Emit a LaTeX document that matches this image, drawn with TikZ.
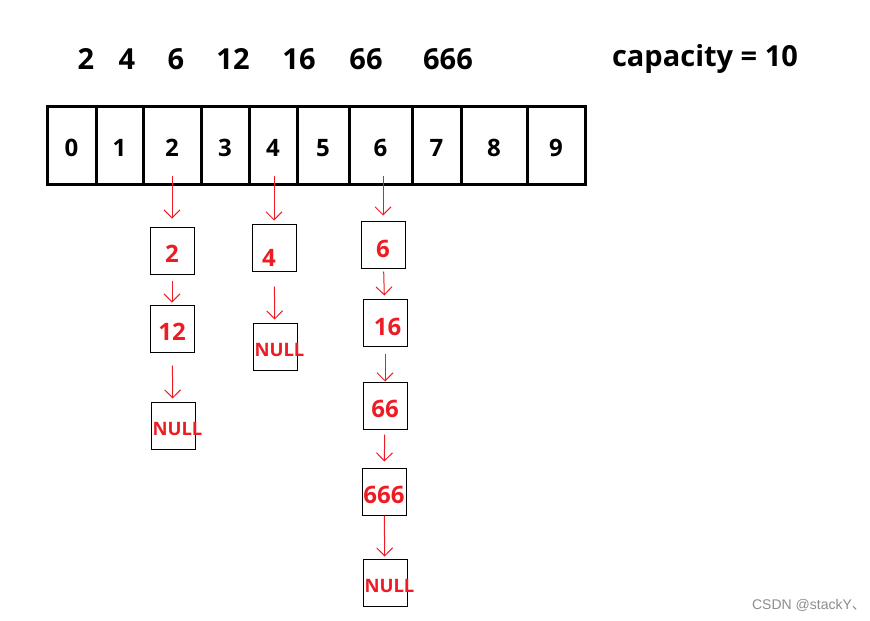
\documentclass[tikz,border=0pt]{standalone}
\usepackage{fontspec}
\setmainfont{Open Sans}
\newfontfamily\cjk{Noto Sans CJK SC}
\newfontfamily\markfont{Liberation Sans}
\usetikzlibrary{arrows.meta}
\definecolor{paintred}{RGB}{237,28,36}
\tikzset{
 ht key/.style={font=\fontsize{29}{29}\selectfont\bfseries},
 ht cell/.style={draw,line width=3pt,inner sep=0pt,minimum height=78pt,
                 text height=21pt,text depth=0pt,
                 font=\fontsize{24}{24}\selectfont\bfseries},
 ht box/.style={draw,line width=1pt,inner sep=0pt,minimum width=44pt,
                minimum height=47pt,text=paintred,text depth=0pt,
                text height=23pt,font=\fontsize{24}{24}\selectfont\bfseries},
 ht null/.style={ht box,text height=20pt,
                 font=\fontsize{18.5}{18.5}\selectfont\bfseries},
 ht link/.style={paintred,line width=1pt,
                 -{Straight Barb[length=8pt,width=16pt,line width=1pt]}}
}
\newcommand{\nullword}{\makebox[44pt][l]{\hspace*{1.5pt}NULL}}
\begin{document}
\begin{tikzpicture}[x=1pt,y=-1pt]
 \useasboundingbox (0,0) rectangle (870,621);
 % keys and capacity
 \node[ht key] (k2) at (86,59) {2};
 \node[ht key] (k4) at (127,59) {4};
 \node[ht key] (k6) at (176,59) {6};
 \node[ht key] (k12) at (233,59) {12};
 \node[ht key] (k16) at (299,59) {16};
 \node[ht key] (k66) at (366,59) {66};
 \node[ht key] (k666) at (448,59) {666};
 \node[ht key] (cap) at (705,59) {capacity = 10};

 % bucket array
 \foreach \i/\l/\r in {0/47/96,1/96/143,2/143/201,3/201/249,4/249/297,
                       5/297/349,6/349/412,7/412/461,8/461/527,9/527/585}
   \node[ht cell,minimum width={(\r-\l)*1pt}] (c\i) at ({(\l+\r)/2},145.5) {\i};

 % chains
 \node[ht box] (b2) at (172,250.5) {2};
 \node[ht box] (b12) at (172,328.5) {12};
 \node[ht null] (n2) at (173,425.5) {\nullword};
 \node[ht box,text height=37pt] (b4) at (274,247.5) {4\hspace*{10pt}};
 \node[ht null] (n4) at (275,346.5) {\nullword};
 \node[ht box,text height=26pt] (b6) at (383,244.5) {6};
 \node[ht box,text height=25pt] (b16) at (385,322.5) {\hspace*{5pt}16};
 \node[ht box] (b66) at (385,405.5) {66};
 \node[ht box] (b666) at (384,491.5) {666};
 \node[ht null] (n6) at (385,582.5) {\nullword};

 \draw[ht link,shorten <=-10pt,shorten >=8pt] (c2.south -| b2.north)--(b2.north);
 \draw[ht link,shorten <=-10pt,shorten >=3pt] (c4.south -| b4.north)--(b4.north);
 \draw[ht link,shorten <=-10pt,shorten >=5pt] (c6.south -| b6.north)--(b6.north);
 \draw[ht link,shorten <=6pt,shorten >=2pt] (b2)--(b12);
 \draw[ht link,shorten <=13pt,shorten >=3pt] (b12)--(n2);
 \draw[ht link,shorten <=15pt,shorten >=3pt] (b4)--(n4);
 \draw[ht link,shorten <=3pt,shorten >=3pt] (b6)--(b16);
 \draw[ht link,shorten <=7pt,shorten >=0pt] (b16)--(b66);
 \draw[ht link,shorten <=5pt,shorten >=6pt] (b66)--(b666);
 \draw[ht link,shorten <=0pt,shorten >=2pt] (b666)--(n6);

 \node[text=black!45,font=\markfont\fontsize{14}{14}\selectfont] (mark) at (809,605) {CSDN @stackY{\cjk 、}};
\end{tikzpicture}
\end{document}
